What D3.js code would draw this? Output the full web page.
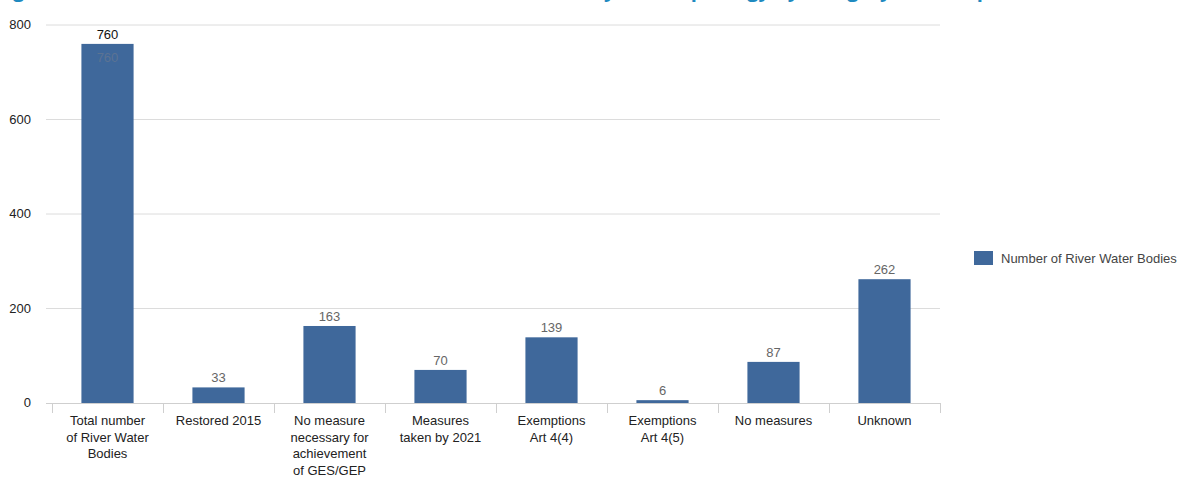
<!DOCTYPE html>
<html><head><meta charset="utf-8">
<script src="https://cdn.jsdelivr.net/npm/d3@7"></script>
<style>body{margin:0;background:#fff;overflow:hidden}svg{display:block}</style>
</head><body>
<svg id="c" width="1200" height="479"></svg>
<script>
const categories = ["Total number of River Water Bodies","Restored 2015","No measure necessary for achievement of GES/GEP","Measures taken by 2021","Exemptions Art 4(4)","Exemptions Art 4(5)","No measures","Unknown"];
const categoryLines = [["Total number","of River Water","Bodies"],["Restored 2015"],["No measure","necessary for","achievement","of GES/GEP"],["Measures","taken by 2021"],["Exemptions","Art 4(4)"],["Exemptions","Art 4(5)"],["No measures"],["Unknown"]];
const values = [760,33,163,70,139,6,87,262];
const yTicks = [0,200,400,600,800];
const seriesName = "Number of River Water Bodies";
const titleText = "Figure 4.6: Number of river water bodies with measures for hydromorphology by category of exemption";

const svg = d3.select("#c");
const font = "'Liberation Sans', Arial, sans-serif";
const x = d3.scaleBand().domain(categories).range([52,940]).paddingInner(0.53).paddingOuter(0.265);
const y = d3.scaleLinear().domain([0,800]).range([403,25]);

// cut-off title (only descenders visible, as in the reference)
svg.append("text").attr("x",-4).attr("y",-3).attr("fill","#1f8ac0").attr("font-family","'Open Sans', sans-serif")
  .attr("font-weight","bold").attr("font-size",20).text(titleText);

// gridlines
svg.append("g").selectAll("line").data(yTicks.filter(d=>d>0)).join("line")
  .attr("x1",46).attr("x2",940).attr("y1",d=>y(d)).attr("y2",d=>y(d))
  .attr("stroke","#dcdcdc").attr("stroke-width",1);

// y labels
svg.append("g").selectAll("text").data(yTicks).join("text")
  .attr("x",31).attr("y",d=>y(d)+4).attr("text-anchor","end")
  .attr("font-family",font).attr("font-size",13).attr("fill","#222").text(d=>d);

// bars
svg.append("g").selectAll("rect").data(values).join("rect")
  .attr("x",(d,i)=>x(categories[i])).attr("width",x.bandwidth())
  .attr("y",d=>y(d)).attr("height",d=>y(0)-y(d)).attr("fill","#3f689b");

// x axis
const bw = x.step();
const bounds = d3.range(categories.length+1).map(i=>52+i*bw);
svg.append("line").attr("x1",46).attr("x2",940).attr("y1",403.5).attr("y2",403.5).attr("stroke","#cfcfcf");
svg.append("g").selectAll("line").data(bounds).join("line")
  .attr("x1",d=>Math.round(d)+0.5).attr("x2",d=>Math.round(d)+0.5).attr("y1",403).attr("y2",413)
  .attr("stroke","#cfcfcf");

// value labels
svg.append("g").selectAll("text").data(values).join("text")
  .attr("x",(d,i)=>x(categories[i])+x.bandwidth()/2).attr("y",d=>y(d)-5)
  .attr("text-anchor","middle").attr("font-family",font).attr("font-size",13)
  .attr("fill",(d,i)=>i===0?"#111":"#666").text(d=>d);
// faint inner label on first bar
svg.append("text").attr("x",x(categories[0])+x.bandwidth()/2).attr("y",y(values[0])+18)
  .attr("text-anchor","middle").attr("font-family",font).attr("font-size",13)
  .attr("fill","#5c7393").text(values[0]);

// category labels
const cl = svg.append("g");
categoryLines.forEach((lines,i)=>{
  const t = cl.append("text").attr("text-anchor","middle").attr("font-family",font)
    .attr("font-size",13).attr("fill","#222");
  lines.forEach((ln,j)=>t.append("tspan").attr("x",x(categories[i])+x.bandwidth()/2).attr("y",425+j*16.5).text(ln));
});

// legend
svg.append("rect").attr("x",974).attr("y",251).attr("width",19).attr("height",14).attr("fill","#3f689b");
svg.append("text").attr("x",1001).attr("y",263).attr("font-family",font).attr("font-size",13)
  .attr("fill","#444").text(seriesName);
</script>
</body></html>
